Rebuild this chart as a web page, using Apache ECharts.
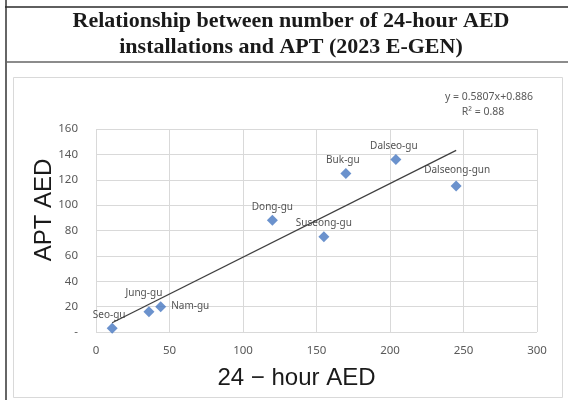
<!DOCTYPE html>
<html>
<head>
<meta charset="utf-8">
<script src="https://cdn.jsdelivr.net/npm/echarts@6/dist/echarts.min.js"></script>
<style>
html,body{margin:0;padding:0;background:#fff;}
#chart{width:568px;height:400px;}
</style>
</head>
<body>
<div id="chart"></div>
<script>
var districts = ['Seo-gu','Jung-gu','Nam-gu','Dong-gu','Suseong-gu','Buk-gu','Dalseo-gu','Dalseong-gun'];
var aed24 = [11, 36, 44, 120, 155, 170, 204, 245];
var aptAed = [3, 16, 20, 88, 75, 125, 136, 115];
var trendX = [11, 245];
var trendY = [7.3, 143.2];
var yTicks = [0, 20, 40, 60, 80, 100, 120, 140, 160];
var xTicks = [0, 50, 100, 150, 200, 250, 300];
var titleText = 'Relationship between number of 24-hour AED\ninstallations and APT (2023 E-GEN)';
var xTitle = '24 − hour AED';
var yTitle = 'APT AED';
var equationText = 'y = 0.5807x+0.886';
var r2Text = 'R² = 0.88';

var labelTweaks = {
  'Seo-gu': {offset: [-3, 0]},
  'Jung-gu': {offset: [-5, -5]},
  'Nam-gu': {position: 'right', distance: 5},
  'Dalseong-gun': {offset: [1, -2]},
  'Buk-gu': {offset: [-3, 0]},
  'Dalseo-gu': {offset: [-2, 0]}
};

var scatterData = districts.map(function (n, i) {
  var item = {name: n, value: [aed24[i], aptAed[i]]};
  if (labelTweaks[n]) item.label = labelTweaks[n];
  return item;
});
var trendData = trendX.map(function (x, i) { return [x, trendY[i]]; });

var chart = echarts.init(document.getElementById('chart'), null, {renderer: 'canvas'});
chart.setOption({
  animation: false,
  backgroundColor: '#ffffff',
  grid: {left: 96, right: 31, top: 129, bottom: 68},
  xAxis: {
    type: 'value', min: xTicks[0], max: xTicks[xTicks.length - 1], interval: 50,
    axisLine: {show: false}, axisTick: {show: false},
    axisLabel: {margin: 13, fontFamily: 'Noto Sans', fontSize: 11.5, color: '#595959'},
    splitLine: {show: true, lineStyle: {color: '#d9d9d9', width: 1}}
  },
  yAxis: {
    type: 'value', min: yTicks[0], max: yTicks[yTicks.length - 1], interval: 20,
    axisLine: {show: false}, axisTick: {show: false},
    axisLabel: {margin: 18, fontFamily: 'Noto Sans', fontSize: 11.5, color: '#595959',
      formatter: function (v) { return v === 0 ? '-' : String(v); }},
    splitLine: {show: true, lineStyle: {color: '#d9d9d9', width: 1}}
  },
  graphic: [
    {type: 'line', shape: {x1: 6, y1: 0, x2: 6, y2: 400}, style: {stroke: '#666', lineWidth: 2}, z: 100},
    {type: 'line', shape: {x1: 5, y1: 7, x2: 568, y2: 7}, style: {stroke: '#2a2a2a', lineWidth: 1.5}, z: 100},
    {type: 'line', shape: {x1: 5, y1: 62, x2: 568, y2: 62}, style: {stroke: '#666', lineWidth: 1.5}, z: 100},
    {type: 'rect', shape: {x: 13.5, y: 77.5, width: 549, height: 320}, style: {fill: null, stroke: '#d9d9d9', lineWidth: 1}, z: 100},
    {type: 'text', x: 291, y: 9, style: {text: titleText, textAlign: 'center', textVerticalAlign: 'top',
      font: 'bold 22px "Liberation Serif"', fill: '#1a1a1a', lineHeight: 25.5}, z: 100},
    {type: 'text', x: 296.5, y: 378, style: {text: xTitle, textAlign: 'center', textVerticalAlign: 'middle',
      font: '24px "Liberation Sans"', fill: '#1a1a1a'}, z: 100},
    {type: 'text', x: 44, y: 210, rotation: Math.PI / 2, style: {text: yTitle, textAlign: 'center', textVerticalAlign: 'middle',
      font: '24px "Liberation Sans"', fill: '#1a1a1a'}, z: 100},
    {type: 'text', x: 533, y: 97, style: {text: equationText, textAlign: 'right', textVerticalAlign: 'middle',
      font: '10.5px "Noto Sans"', fill: '#595959'}, z: 100},
    {type: 'text', x: 483, y: 112, style: {text: r2Text, textAlign: 'center', textVerticalAlign: 'middle',
      font: '10.5px "Noto Sans"', fill: '#595959'}, z: 100}
  ],
  series: [
    {
      type: 'scatter', symbol: 'diamond', symbolSize: 11,
      itemStyle: {color: '#4677C0'},
      label: {show: true, position: 'top', distance: 3, formatter: '{b}',
        fontFamily: 'Noto Sans', fontSize: 10, color: '#262626'},
      data: scatterData, z: 2
    },
    {
      type: 'line', symbol: 'none', data: trendData,
      lineStyle: {color: '#404040', width: 1.3}, z: 5, silent: true
    }
  ]
});
</script>
</body>
</html>
